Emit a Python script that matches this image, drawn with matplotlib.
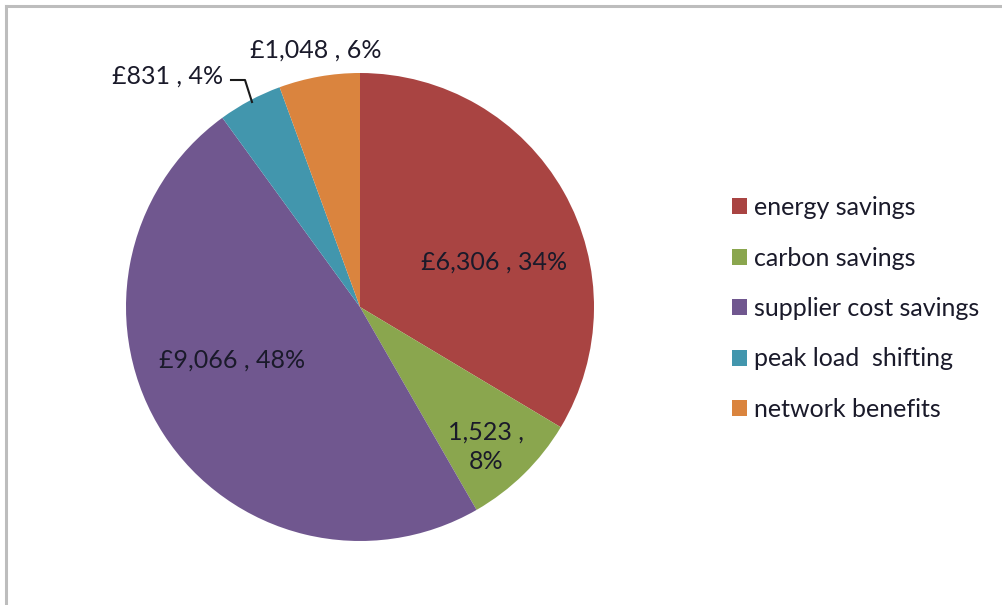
import matplotlib
matplotlib.use("Agg")
import matplotlib.pyplot as plt
from matplotlib.patches import Patch
from matplotlib.lines import Line2D

categories = ["energy savings", "carbon savings", "supplier cost savings",
              "peak load  shifting", "network benefits"]
values = [6306, 1523, 9066, 831, 1048]
label_texts = ["£6,306 , 34%", "1,523 ,\n8%", "£9,066 , 48%", "£831 , 4%", "£1,048 , 6%"]
colors = ["#A94442", "#8AA64E", "#70578F", "#4296AD", "#DA843E"]

W, H = 1003, 605
fig = plt.figure(figsize=(W / 100, H / 100), dpi=100)
plt.rcParams['font.family'] = ['Lato', 'DejaVu Sans']

cx, cy, R = 360, 307, 234
ax = fig.add_axes([(cx - R) / W, (H - cy - R) / H, 2 * R / W, 2 * R / H])
wedges, _ = ax.pie(values, colors=colors, startangle=90, counterclock=False,
                   radius=1, wedgeprops=dict(linewidth=0))
ax.set_xlim(-1, 1)
ax.set_ylim(-1, 1)
ax.set_aspect('equal')
ax.axis('off')

FS = 18
# label pixel positions (layout)
label_pos = [(494, 262), (486, 447), (232, 360), (168, 76), (316, 50)]
for txt, (px, py) in zip(label_texts, label_pos):
    fig.text(px / W, 1 - py / H, txt, ha='center', va='center', fontsize=FS,
             color='#1a1a2a', linespacing=1.35)

# leader line for £831 label
lx = [231, 245, 252]
ly = [80, 80, 102]
fig.add_artist(Line2D([x / W for x in lx], [1 - y / H for y in ly],
                      color='#1a1a1a', lw=1.5))

handles = [Patch(facecolor=c, edgecolor='none') for c in colors]
fig.legend(handles, categories, loc='upper left',
           bbox_to_anchor=(732 / W, 1 - 196 / H), frameon=False,
           fontsize=FS, handlelength=0.6, handleheight=0.6,
           handletextpad=0.3, labelspacing=1.1, borderaxespad=0,
           borderpad=0, labelcolor='#1a1a2a')

# outer frame (top and left edges visible)
fig.add_artist(Line2D([6 / W, 6 / W], [0, 1 - 6 / H], color='#BDBDBD', lw=2.2))
fig.add_artist(Line2D([6 / W, 1], [1 - 6 / H, 1 - 6 / H], color='#BDBDBD', lw=2.2))

fig.savefig("out.png", dpi=100)
